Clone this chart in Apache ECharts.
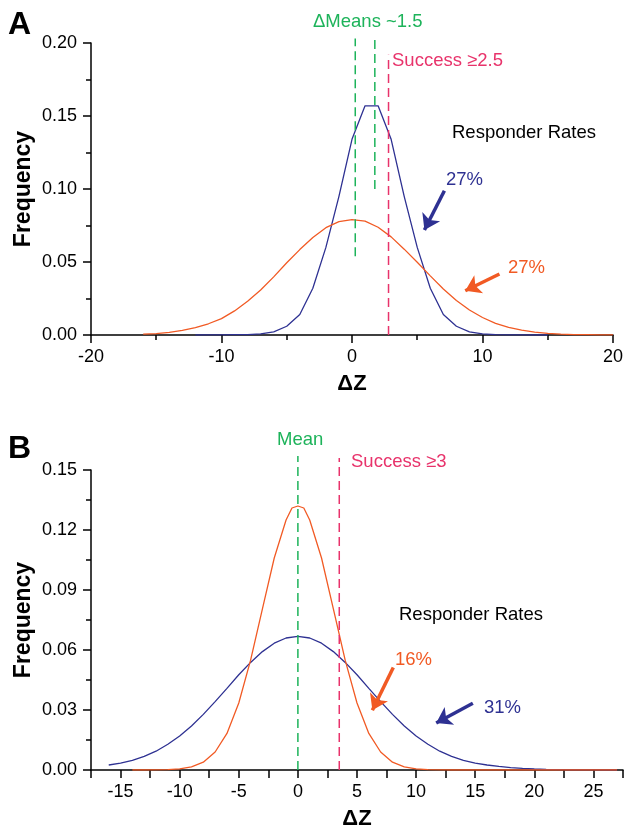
<!DOCTYPE html>
<html>
<head>
<meta charset="utf-8">
<script src="https://cdn.jsdelivr.net/npm/echarts@6/dist/echarts.min.js"></script>
<style>
  html, body { margin: 0; padding: 0; background: #fff; }
  #chart { width: 626px; height: 831px; }
</style>
</head>
<body>
<div id="chart"></div>
<script>
// ---- Panel A data -------------------------------------------------------
const xA_blue = [-12,-11,-10,-9,-8,-7,-6,-5,-4,-3,-2,-1,0,1,2,3,4,5,6,7,8,9,10,11,12,13,14,15];
const yA_blue = [0,0.0001,0.0001,0.0002,0.0003,0.0008,0.0022,0.0060,0.014,0.032,0.060,0.095,0.134,0.157,0.157,0.134,0.095,0.060,0.032,0.014,0.0060,0.0022,0.0008,0.0003,0.0001,0.0001,0,0];

const xA_orange = [-16,-15,-14,-13,-12,-11,-10,-9,-8,-7,-6,-5,-4,-3,-2,-1,0,1,2,3,4,5,6,7,8,9,10,11,12,13,14,15,16,17,18,19,20];
const yA_orange = [0.0006,0.0010,0.0018,0.0031,0.0050,0.0077,0.0112,0.0165,0.0231,0.0308,0.0398,0.0495,0.0585,0.0668,0.0735,0.0776,0.0790,0.0780,0.0738,0.0672,0.0588,0.0498,0.0405,0.0315,0.0236,0.0171,0.0120,0.0080,0.0052,0.0033,0.0020,0.0011,0.0006,0.0003,0.0002,0.0001,0.0001];

// reference markers (x position, y from, y to)
const meanLinesA = [[0.25, 0.054, 0.203], [1.75, 0.100, 0.203]];
const successLineA = [2.8, 0, 0.192];
const arrowBlueA = [[7.08, 0.0988], [5.55, 0.0719]];
const arrowOrangeA = [[11.3, 0.0418], [8.68, 0.0303]];

// ---- Panel B data -------------------------------------------------------
const xB_blue = [-16,-15,-14,-13,-12,-11,-10,-9,-8,-7,-6,-5,-4,-3,-2,-1,0,1,2,3,4,5,6,7,8,9,10,11,12,13,14,15,16,17,18,19,20,21,22,23,24,25,26,27];
const yB_blue = [0.0025,0.0034,0.0048,0.0068,0.0094,0.0129,0.0170,0.0220,0.0278,0.0342,0.0408,0.0476,0.0538,0.0592,0.0634,0.0660,0.0668,0.0660,0.0634,0.0592,0.0538,0.0476,0.0408,0.0342,0.0278,0.0220,0.0170,0.0129,0.0094,0.0068,0.0048,0.0034,0.0025,0.0018,0.0012,0.0008,0.0005,0.0003,0.0002,0.0001,0.0001,0.0001,0,0];

const xB_orange = [-14,-13,-12,-11,-10,-9,-8,-7,-6,-5,-4,-3,-2,-1,-0.5,0,0.5,1,2,3,4,5,6,7,8,9,10,11,12,13,14,15,16,17,18,19,20,21,22,23,24,25,26,27];
const yB_orange = [0,0,0.0001,0.0002,0.0006,0.0016,0.0039,0.0090,0.0183,0.0335,0.0549,0.0806,0.1060,0.1250,0.1310,0.1320,0.1310,0.1250,0.1060,0.0806,0.0549,0.0335,0.0183,0.0090,0.0039,0.0016,0.0006,0.0002,0.0001,0,0,0,0,0,0,0,0,0,0,0,0,0,0,0];

const meanLineB = [0, 0, 0.157];
const successLineB = [3.5, 0, 0.156];
const arrowOrangeB = [[8.07, 0.0512], [6.3, 0.0299]];
const arrowBlueB = [[14.8, 0.0334], [11.7, 0.0235]];

// ---- Styling ------------------------------------------------------------
const FONT = "'Liberation Sans', Arial, Helvetica, sans-serif";
const BLUE = '#2e3192';
const ORANGE = '#f15a24';
const GREEN = '#1db35a';
const PINK = '#e8336b';

const zip = (xs, ys) => xs.map((x, i) => [x, ys[i]]);
const vline = (spec) => [[spec[0], spec[1]], [spec[0], spec[2]]];

function xAxisCfg(grid, min, max, interval, minorSplit, fmt) {
  return {
    type: 'value', gridIndex: grid, min, max, interval,
    axisLine: { onZero: false, lineStyle: { color: '#000', width: 1.5 } },
    axisTick: { length: 8, lineStyle: { color: '#000', width: 1.5 } },
    minorTick: { show: minorSplit > 0, splitNumber: minorSplit || 5, length: 5, lineStyle: { color: '#000', width: 1.5 } },
    splitLine: { show: false },
    axisLabel: { color: '#000', fontSize: 18, fontFamily: FONT, margin: 13, formatter: fmt },
    name: 'ΔZ', nameLocation: 'middle', nameGap: 38,
    nameTextStyle: { color: '#000', fontSize: 22, fontWeight: 'bold', fontFamily: FONT }
  };
}
function yAxisCfg(grid, max, interval) {
  return {
    type: 'value', gridIndex: grid, min: 0, max, interval,
    axisLine: { show: true, onZero: false, lineStyle: { color: '#000', width: 1.5 } },
    axisTick: { show: true, length: 8, lineStyle: { color: '#000', width: 1.5 } },
    minorTick: { show: true, splitNumber: 2, length: 5, lineStyle: { color: '#000', width: 1.5 } },
    splitLine: { show: false },
    axisLabel: { color: '#000', fontSize: 18, fontFamily: FONT, margin: 14, formatter: v => v.toFixed(2) },
    name: 'Frequency', nameLocation: 'middle', nameGap: 56, nameRotate: 90, nameMoveOverlap: false,
    nameTextStyle: { color: '#000', fontSize: 23, fontWeight: 'bold', fontFamily: FONT }
  };
}
function curve(grid, data, color) {
  return {
    type: 'line', xAxisIndex: grid, yAxisIndex: grid, data, symbol: 'none',
    lineStyle: { color, width: 1.3 }, silent: true, animation: false
  };
}
function dashed(grid, data, color) {
  return {
    type: 'line', xAxisIndex: grid, yAxisIndex: grid, data, symbol: 'none', clip: false,
    lineStyle: { color, width: 1.5, type: [9, 5] }, silent: true, animation: false, z: 3
  };
}
function arrow(grid, coords, color) {
  return {
    type: 'lines', coordinateSystem: 'cartesian2d', xAxisIndex: grid, yAxisIndex: grid,
    symbol: ['none', 'arrow'], symbolSize: [13, 15],
    lineStyle: { color, width: 3.5, opacity: 1, curveness: 0 },
    data: [{ coords }], silent: true, animation: false, z: 4
  };
}
function label(text, x, y, color, size, bold) {
  return {
    type: 'text', x, y, silent: true,
    style: { text, fill: color, fontSize: size, fontFamily: FONT, fontWeight: bold ? 'bold' : 'normal', verticalAlign: 'middle', align: 'left' }
  };
}

const chart = echarts.init(document.getElementById('chart'), null, { renderer: 'canvas' });
chart.setOption({
  animation: false,
  backgroundColor: '#fff',
  grid: [
    { left: 91, right: 11, top: 43, height: 292 },
    { left: 91, right: 0, top: 470, height: 303.5 }
  ],
  xAxis: [
    xAxisCfg(0, -20, 20, 10, 2, v => String(v)),
    xAxisCfg(1, -17.5, 27.5, 2.5, 0, v => (v % 5 === 0 ? String(v) : ''))
  ],
  yAxis: [
    yAxisCfg(0, 0.2, 0.05),
    yAxisCfg(1, 0.15, 0.03)
  ],
  series: [
    curve(0, zip(xA_blue, yA_blue), BLUE),
    curve(0, zip(xA_orange, yA_orange), ORANGE),
    dashed(0, vline(meanLinesA[0]), GREEN),
    dashed(0, vline(meanLinesA[1]), GREEN),
    dashed(0, vline(successLineA), PINK),
    arrow(0, arrowBlueA, BLUE),
    arrow(0, arrowOrangeA, ORANGE),

    curve(1, zip(xB_blue, yB_blue), BLUE),
    curve(1, zip(xB_orange, yB_orange), ORANGE),
    dashed(1, vline(meanLineB), GREEN),
    dashed(1, vline(successLineB), PINK),
    arrow(1, arrowOrangeB, ORANGE),
    arrow(1, arrowBlueB, BLUE)
  ],
  graphic: [
    label('A', 8, 25, '#000', 32, true),
    label('ΔMeans ~1.5', 313, 22, GREEN, 18.5),
    label('Success ≥2.5', 392, 61, PINK, 18.5),
    label('Responder Rates', 452, 133, '#000', 18.5),
    label('27%', 446, 180, BLUE, 18.5),
    label('27%', 508, 268, ORANGE, 18.5),

    label('B', 8, 449, '#000', 32, true),
    label('Mean', 277, 440, GREEN, 18.5),
    label('Success ≥3', 351, 462, PINK, 18.5),
    label('Responder Rates', 399, 615, '#000', 18.5),
    label('16%', 395, 660, ORANGE, 18.5),
    label('31%', 484, 708, BLUE, 18.5)
  ]
});
</script>
</body>
</html>
